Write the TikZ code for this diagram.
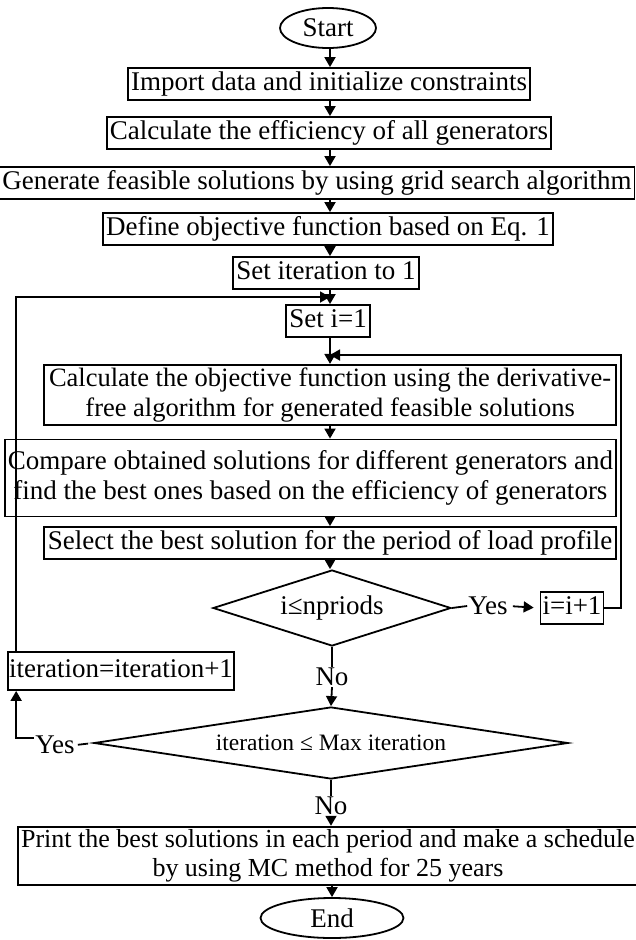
\documentclass[tikz,border=0pt]{standalone}
\usepackage{fontspec}
\setmainfont{Liberation Serif}
\usetikzlibrary{shapes.geometric,arrows.meta}

\tikzset{
  blk/.style={draw,line width=1.8pt,inner xsep=3pt,inner ysep=3pt,text height=19pt,text depth=7pt},
  blktwo/.style={draw,line width=1.8pt,inner xsep=3pt,inner ysep=3pt,align=center},
  term/.style={draw,ellipse,line width=1.8pt,inner sep=0pt},
  dec/.style={draw,diamond,line width=1.8pt,inner sep=0pt},
  lbl/.style={inner sep=1pt},
  flow/.style={line width=1.8pt,-{Triangle[length=10pt,width=11pt]}},
  plain/.style={line width=1.8pt},
}

\begin{document}
\begin{tikzpicture}[x=1pt,y=1pt,yscale=-1,font=\fontsize{27}{30}\selectfont]
\useasboundingbox (0,0) rectangle (636,940);

% main axis and loop joints
\coordinate (ax) at (330,0);
\coordinate (j1) at (330,297);
\coordinate (j2) at (330,355);

%Shape: Ellipse
\node[term,minimum width=96,minimum height=40] (start) at (328,28) {Start};
%Shape: Rectangle
\node[blk] (import) at (329,84) {Import data and initialize constraints};
\node[blk] (eff) at (329,133) {Calculate the efficiency of all generators};
\node[blk] (gen) at (317,183) {Generate feasible solutions by using grid search algorithm};
\node[blk] (def) at (328,229) {Define objective function based on Eq. 1};
\node[blk] (setiter) at (326,273) {Set iteration to 1};
\node[blk] (seti) at (328,321) {Set i=1};
\node[blktwo,anchor=east,minimum width=572,font=\fontsize{26.5}{30}\selectfont] (calc) at (617,395) {Calculate the objective function using the derivative-\\free algorithm for generated feasible solutions};
\node[blktwo,anchor=east,minimum height=77] (compare) at (617,478) {Compare obtained solutions for different generators and\\find the best ones based on the efficiency of generators};
\node[blk,anchor=east,minimum width=572] (select) at (617,543) {Select the best solution for the period of load profile};
%Shape: Diamond
\node[dec,shape aspect=3,minimum width=238,minimum height=76] (d1) at (332,608) {i≤npriods};
\node[blk,inner xsep=2pt] (inc) at (572,608) {i=i+1};
\node[blk,inner xsep=1pt,minimum height=38] (iterinc) at (121,671) {iteration=iteration+1};
\node[dec,shape aspect=6.5,minimum width=474,minimum height=72,font=\fontsize{23.5}{26}\selectfont] (d2) at (331,743) {iteration ≤ Max iteration};
\node[blktwo,font=\fontsize{26}{29}\selectfont] (print) at (328,856) {Print the best solutions in each period and make a schedule\\by using MC method for 25 years};
\node[term,minimum width=143,minimum height=40] (end) at (332,918) {End};

% Text Node
\node[lbl] (yes1) at (488,606) {Yes};
\node[lbl] (no1) at (332,677) {No};
\node[lbl] (yes2) at (55,745) {Yes};
\node[lbl] (no2) at (331,806) {No};

%Straight Lines
\draw[flow] (start.south -| ax) -- (import.north -| ax);
\draw[flow] (import.south -| ax) -- (eff.north -| ax);
\draw[flow] (eff.south -| ax) -- (gen.north -| ax);
\draw[flow] (gen.south -| ax) -- (def.north -| ax);
\draw[flow] (def.south -| ax) -- (setiter.north -| ax);
\draw[flow] (setiter.south -| ax) -- (seti.north -| ax);
\draw[flow] (seti.south -| ax) -- (calc.north -| ax);
\draw[flow] (calc.south -| ax) -- (compare.north -| ax);
\draw[flow] (compare.south -| ax) -- (select.north -| ax);
\draw[flow] (select.south -| ax) -- (d1.north -| ax);
\draw[plain] (d1.south) -- (no1.north);
\draw[flow] (no1.south) -- (d2.north);
\draw[plain] (d2.south) -- (no2.north);
\draw[flow] (no2.south) -- (print.north -| d2);
\draw[flow] (print.south -| end) -- (end.north);

% inner loop over periods
\draw[plain] (d1.east) -- (yes1.west);
\draw[flow,shorten <=4pt,shorten >=6pt] (yes1.east) -- (inc.west);
\draw[flow] (inc.east) -| ([xshift=4pt]select.east |- j2) -- (j2);

% outer loop over iterations
\draw[plain,shorten <=5pt,shorten >=2pt] (d2.west) -- (yes2.east);
\draw[flow] ([yshift=-7pt]yes2.west) -| ([xshift=9pt]iterinc.south west);
\draw[flow] ([xshift=9pt]iterinc.north west) |- (j1);

\end{tikzpicture}
\end{document}
